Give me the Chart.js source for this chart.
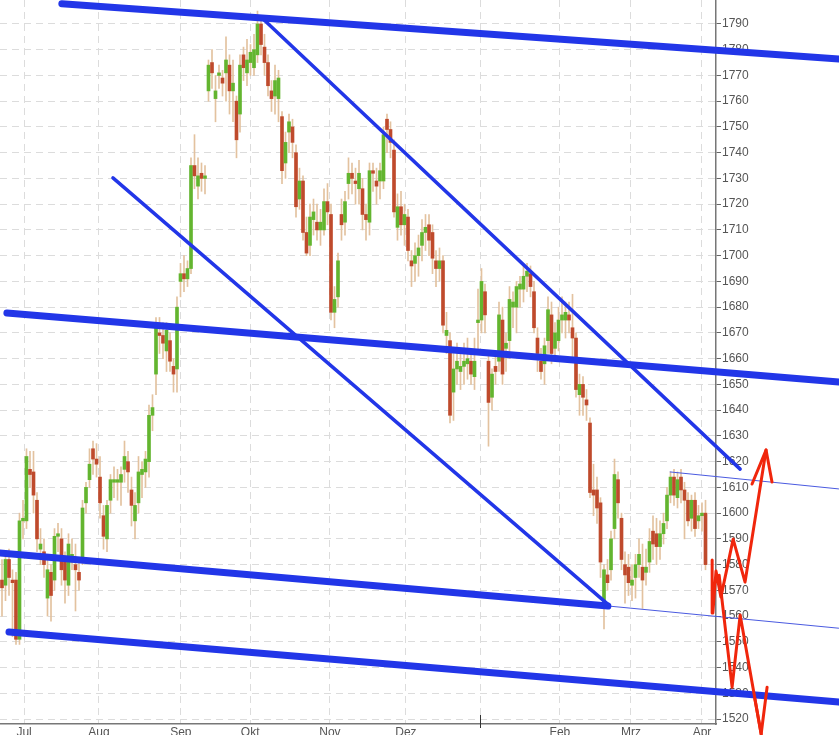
<!DOCTYPE html>
<html>
<head>
<meta charset="utf-8">
<script src="https://cdn.jsdelivr.net/npm/chart.js@4.4.1/dist/chart.umd.min.js"></script>
<style>
html, body { margin: 0; padding: 0; background: #fff; overflow: hidden; }
canvas { display: block; }
</style>
</head>
<body>
<canvas id="chart" width="839" height="735"></canvas>
<script>
// ---------------- DATA ----------------
// daily candles, one per trading day (index = day)
const opens = [
1574,1572,1582,1574,1574,1551,1597,1597,1617,1616,1605,1586,1585,1567,1577,1574,1591,1590,1581,1572,
1581,1580,1577,1582,1604,1613,1625,1621,1614,1599,1590,1605,1612,1612,1612,1617,1620,1609,1597,1604,
1615,1616,1620,1638,1654,1670,1669,1663,1667,1657,1656,1690,1693,1691,1695,1735,1727,1732,1730,1764,
1775,1761,1770,1769,1771,1774,1764,1760,1755,1778,1771,1775,1773,1778,1790,1781,1775,1764,1762,1761,
1754,1736,1748,1750,1740,1722,1729,1709,1704,1714,1713,1710,1710,1721,1716,1678,1684,1716,1713,1728,
1732,1729,1726,1726,1716,1713,1733,1729,1729,1729,1753,1749,1741,1711,1719,1712,1715,1698,1697,1700,
1704,1709,1712,1709,1698,1695,1698,1669,1667,1647,1656,1655,1657,1658,1659,1653,1674,1675,1686,1659,
1645,1657,1659,1675,1664,1667,1680,1680,1687,1687,1692,1693,1686,1668,1659,1658,1667,1677,1664,1667,
1675,1675,1677,1672,1668,1646,1650,1644,1635,1609,1609,1604,1565,1576,1578,1594,1613,1598,1580,1579,
1572,1575,1580,1579,1577,1581,1593,1592,1587,1592,1597,1607,1614,1606,1614,1609,1605,1598,1605,1597,
1599,1600
];
const highs = [
1582,1584,1586,1578,1577,1600,1605,1625,1624,1624,1608,1594,1590,1582,1580,1594,1596,1594,1585,1592,
1590,1588,1582,1605,1612,1625,1628,1627,1622,1603,1605,1615,1618,1617,1618,1628,1624,1614,1608,1622,
1620,1624,1642,1646,1676,1676,1674,1674,1670,1660,1684,1697,1700,1698,1738,1747,1738,1736,1735,1776,
1780,1770,1774,1772,1785,1778,1776,1762,1778,1781,1784,1782,1786,1795,1793,1786,1778,1768,1774,1772,
1756,1748,1755,1753,1743,1734,1731,1715,1720,1722,1720,1718,1726,1728,1720,1688,1701,1722,1725,1738,
1736,1734,1737,1730,1720,1736,1736,1734,1736,1750,1755,1752,1745,1724,1725,1720,1718,1702,1705,1708,
1714,1716,1716,1712,1702,1703,1700,1678,1670,1662,1666,1664,1666,1668,1663,1668,1687,1695,1689,1662,
1656,1662,1682,1680,1670,1688,1686,1690,1692,1696,1697,1696,1690,1672,1664,1668,1684,1682,1674,1680,
1684,1682,1682,1685,1670,1654,1653,1648,1637,1619,1614,1606,1580,1582,1593,1621,1616,1600,1585,1584,
1580,1584,1590,1588,1586,1594,1599,1598,1597,1600,1610,1616,1617,1616,1617,1612,1608,1607,1608,1603,
1604,1605
];
const lows = [
1560,1566,1568,1552,1549,1549,1590,1594,1610,1600,1585,1580,1575,1560,1558,1570,1585,1572,1565,1568,
1578,1562,1570,1580,1600,1610,1615,1614,1598,1586,1585,1600,1606,1605,1603,1612,1608,1595,1590,1600,
1606,1610,1614,1632,1646,1662,1660,1655,1655,1647,1647,1684,1686,1688,1693,1726,1722,1725,1724,1760,
1765,1752,1765,1762,1760,1755,1752,1738,1748,1768,1766,1770,1770,1775,1778,1770,1762,1756,1755,1752,
1728,1730,1740,1738,1715,1718,1706,1700,1700,1708,1706,1704,1708,1712,1675,1672,1680,1706,1708,1722,
1724,1720,1720,1710,1706,1708,1725,1720,1722,1726,1740,1738,1715,1706,1708,1704,1698,1688,1690,1692,
1698,1702,1700,1693,1688,1690,1670,1662,1635,1636,1650,1648,1650,1652,1650,1648,1663,1670,1670,1626,
1640,1650,1655,1650,1655,1660,1672,1670,1680,1682,1686,1684,1670,1655,1652,1650,1662,1658,1660,1663,
1670,1668,1670,1660,1645,1638,1638,1636,1606,1599,1596,1575,1555,1570,1574,1590,1598,1578,1565,1568,
1566,1567,1575,1563,1572,1577,1582,1580,1582,1588,1594,1604,1603,1602,1604,1590,1595,1593,1591,1594,
1593,1578
];
const closes = [
1571,1582,1575,1573,1551,1597,1598,1622,1615,1607,1590,1588,1580,1578,1568,1591,1592,1578,1574,1588,
1584,1578,1574,1602,1610,1619,1621,1619,1604,1591,1603,1613,1613,1613,1615,1622,1616,1603,1603,1616,
1617,1621,1638,1641,1672,1669,1666,1671,1659,1654,1680,1693,1691,1695,1735,1731,1731,1730,1731,1774,
1771,1764,1771,1767,1776,1764,1767,1745,1774,1773,1776,1779,1780,1790,1782,1775,1766,1761,1768,1769,
1733,1744,1752,1744,1719,1729,1709,1701,1715,1717,1710,1713,1721,1717,1678,1683,1698,1712,1721,1732,
1730,1728,1732,1716,1714,1733,1732,1727,1733,1747,1749,1744,1717,1719,1712,1716,1702,1696,1700,1703,
1709,1711,1706,1699,1695,1698,1673,1671,1638,1656,1659,1657,1659,1660,1654,1659,1675,1690,1677,1643,
1654,1655,1677,1654,1666,1683,1682,1688,1689,1692,1694,1688,1672,1662,1655,1665,1679,1662,1670,1675,
1677,1678,1675,1668,1648,1650,1645,1642,1608,1607,1602,1581,1578,1573,1590,1615,1604,1582,1576,1573,
1574,1580,1584,1574,1579,1589,1588,1587,1592,1596,1607,1614,1607,1613,1609,1605,1597,1605,1594,1599,
1600,1580
];

// month starts (in trading-day index) and their labels
const monthTicks = [6.3, 27.7, 51.1, 70.9, 93.7, 115.4, 136.6, 159.4, 179.7, 200];
const monthLabels = ["Jul", "Aug", "Sep", "Okt", "Nov", "Dez", "", "Feb", "Mrz", "Apr"];
const yearBreak = 136.6;

const priceTicks = [1520,1530,1540,1550,1560,1570,1580,1590,1600,1610,1620,1630,1640,
                    1650,1660,1670,1680,1690,1700,1710,1720,1730,1740,1750,1760,1770,1780,1790];

// hand drawn trend lines [day, price]
const resistTop      = [[17.1, 1797.8], [239.1, 1776.4]];
const channelMid     = [[1.4, 1677.7], [239.1, 1650.9]];
const channelLow     = [[-0.6, 1584.5], [173.1, 1563.9]];
const channelBottom  = [[2.0, 1553.8], [239.1, 1526.6]];
const downUpper      = [[74.6, 1791.9], [210.9, 1617.1]];
const downLower      = [[31.7, 1730.2], [173.4, 1564.3]];
const thinUpper      = [[190.9, 1616.0], [239.1, 1609.4]];
const thinLower      = [[173.4, 1563.9], [239.1, 1555.3]];

// red scenario arrows [day, price]
const arrowUp = [[202.9, 1581.8], [203.1, 1561.2], [204.0, 1577.5], [205.4, 1567.4],
                 [208.9, 1589.9], [212.3, 1573.2], [218.3, 1624.5]];
const arrowUpHead = [[214.3, 1611.3], [218.3, 1624.5], [220.0, 1612.1]];
const arrowDown = [[204.9, 1575.9], [208.6, 1532.4], [210.9, 1560.4], [216.9, 1514.2]];
const arrowDownHead = [[215.1, 1527.8], [216.9, 1514.2], [218.6, 1532.4]];

// ---------------- STYLE ----------------
const GREEN = "#63b52f";
const RED = "#bf4a2c";
const WICK = "#e3c29f";
const BLUE = "#2236e8";
const ARROW = "#f0260c";

Chart.defaults.font.family = "'Liberation Sans', Arial, sans-serif";
Chart.defaults.font.size = 12;
Chart.defaults.color = "#555";

// ---------------- HELPERS ----------------
const days = opens.map((_, i) => i);

function lineSet(points, color, width, order) {
    // reversed so the line is not treated as sorted and no point outside the axis is dropped
    return {
        type: "line",
        data: points.slice().reverse().map(p => ({ x: p[0], y: p[1] })),
        borderColor: color,
        borderWidth: width,
        pointRadius: 0,
        fill: false,
        tension: 0,
        clip: false,
        order: order,
        borderCapStyle: "round",
        borderJoinStyle: "round"
    };
}

// small dark tick at the turn of the year
const yearTick = {
    id: "yearTick",
    afterDraw(chart) {
        const c = chart.ctx;
        const x = Math.round(chart.scales.x.getPixelForValue(yearBreak)) + 0.5;
        const b = chart.chartArea.bottom;
        c.save();
        c.strokeStyle = "#333";
        c.lineWidth = 1;
        c.beginPath();
        c.moveTo(x, b - 9);
        c.lineTo(x, b + 4);
        c.stroke();
        c.restore();
    }
};

// ---------------- CHART ----------------
new Chart(document.getElementById("chart"), {
    type: "bar",
    data: {
        datasets: [
            lineSet(arrowUp, ARROW, 3, -1),
            lineSet(arrowUpHead, ARROW, 3, -1),
            lineSet(arrowDown, ARROW, 3, -1),
            lineSet(arrowDownHead, ARROW, 3, -1),
            lineSet(resistTop, BLUE, 7, 0),
            lineSet(channelMid, BLUE, 7, 0),
            lineSet(channelLow, BLUE, 7, 0),
            lineSet(channelBottom, BLUE, 7, 0),
            lineSet(downUpper, BLUE, 3.5, 0),
            lineSet(downLower, BLUE, 3.5, 0),
            lineSet(thinUpper, "#4a5ae0", 1, 0),
            lineSet(thinLower, "#4a5ae0", 1, 0),
            {
                type: "bar",
                data: days.map(i => ({ x: i, y: [opens[i], closes[i]] })),
                backgroundColor: days.map(i => closes[i] >= opens[i] ? GREEN : RED),
                barThickness: 3,
                grouped: false,
                order: 1
            },
            {
                type: "bar",
                data: days.map(i => ({ x: i, y: [lows[i], highs[i]] })),
                backgroundColor: WICK,
                barThickness: 1,
                grouped: false,
                order: 2
            }
        ]
    },
    options: {
        responsive: false,
        animation: false,
        devicePixelRatio: 1,
        layout: { padding: 0 },
        plugins: {
            legend: { display: false },
            tooltip: { enabled: false }
        },
        scales: {
            x: {
                type: "linear",
                min: -0.571,
                max: 204,
                offset: false,
                afterBuildTicks: s => { s.ticks = monthTicks.map(v => ({ value: v })); },
                afterFit: s => { s.height = 11; s.paddingLeft = 0; s.paddingRight = 0; },
                ticks: {
                    autoSkip: false,
                    maxRotation: 0,
                    padding: 1,
                    color: "#555",
                    callback: (v, i) => monthLabels[i]
                },
                grid: {
                    color: "#dcdcdc",
                    drawTicks: false,
                    offset: false
                },
                border: { color: "#777", width: 1.5, dash: [7, 5] }
            },
            y: {
                position: "right",
                min: 1518.1,
                max: 1799.3,
                afterBuildTicks: s => { s.ticks = priceTicks.map(v => ({ value: v })); },
                afterFit: s => { s.width = 123; s.paddingTop = 0; s.paddingBottom = 0; },
                ticks: {
                    padding: 1,
                    color: "#555",
                    callback: v => String(v)
                },
                grid: {
                    color: "#dcdcdc",
                    tickColor: "#666",
                    tickLength: 5,
                    drawTicks: true
                },
                border: { color: "#777", width: 1.5, dash: [7, 5] }
            }
        }
    },
    plugins: [yearTick]
});
</script>
</body>
</html>
